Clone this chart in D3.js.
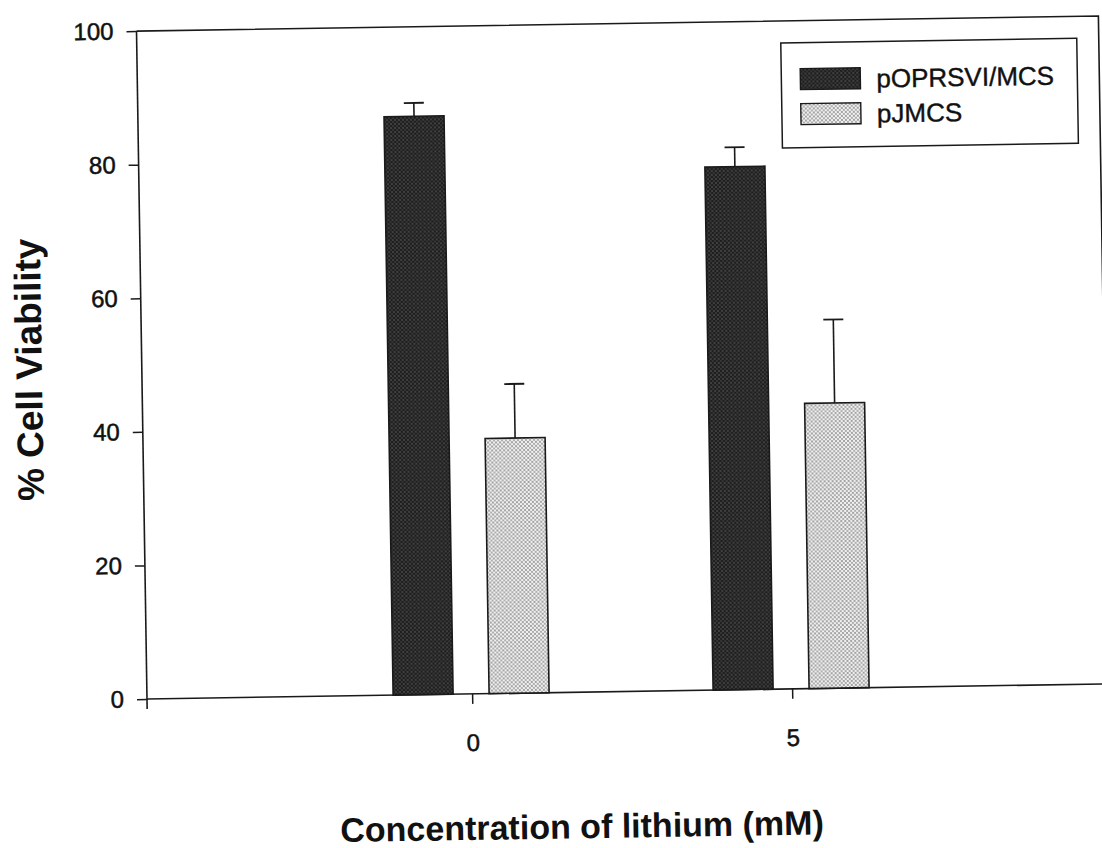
<!DOCTYPE html>
<html>
<head>
<meta charset="utf-8">
<script src="https://cdn.jsdelivr.net/npm/d3@7"></script>
<style>
  html, body { margin: 0; padding: 0; background: #fff; }
  svg { display: block; }
  text { font-family: "Liberation Sans", Arial, Helvetica, sans-serif; fill: #111; }
</style>
</head>
<body>
<svg id="chart" width="1102" height="848"></svg>
<script>
// Lithium concentration groups (mM) and the two constructs
const concentrations = [0, 5];
const seriesNames = ["pOPRSVI/MCS", "pJMCS"];
// Mean % cell viability per concentration
const viabilityPOPRSVI = [86.6, 78.3];
const viabilityPJMCS = [38.2, 42.7];
// Upper error (SD) per concentration
const errorPOPRSVI = [2.0, 2.9];
const errorPJMCS = [8.1, 12.5];
const yTickValues = [0, 20, 40, 60, 80, 100];
const xTickValues = [0, 5];

const seriesValues = [viabilityPOPRSVI, viabilityPJMCS];
const seriesErrors = [errorPOPRSVI, errorPJMCS];

const W = 962, H = 668;
const svg = d3.select("#chart");

// Stipple fills
const defs = svg.append("defs");
const darkPat = defs.append("pattern")
  .attr("id", "stippleDark").attr("patternUnits", "userSpaceOnUse")
  .attr("width", 4).attr("height", 4);
darkPat.append("rect").attr("width", 4).attr("height", 4).attr("fill", "#1e1e1e");
darkPat.append("circle").attr("cx", 1).attr("cy", 1).attr("r", 0.8).attr("fill", "#6a6a6a");
darkPat.append("circle").attr("cx", 3).attr("cy", 3).attr("r", 0.8).attr("fill", "#555");

const lightPat = defs.append("pattern")
  .attr("id", "stippleLight").attr("patternUnits", "userSpaceOnUse")
  .attr("width", 4).attr("height", 4);
lightPat.append("rect").attr("width", 4).attr("height", 4).attr("fill", "#f0f0f0");
lightPat.append("circle").attr("cx", 1).attr("cy", 1).attr("r", 0.9).attr("fill", "#808080");
lightPat.append("circle").attr("cx", 3).attr("cy", 3).attr("r", 0.9).attr("fill", "#909090");

const fills = ["url(#stippleDark)", "url(#stippleLight)"];

// Whole plot sits with a slight tilt
const g = svg.append("g")
  .attr("transform", "rotate(-0.9, 147, 699) translate(147, 31)");

const x = d3.scaleLinear().domain([-5.08, 9.95]).range([0, W]);
const y = d3.scaleLinear().domain([0, 100]).range([H, 0]);
const sub = d3.scaleBand().domain(seriesNames).range([-79, 77]).paddingInner(0.375);

const ink = "#1a1a1a";

// Frame (top and right borders)
g.append("path")
  .attr("d", `M0,0 H${W} V${H}`)
  .attr("fill", "none").attr("stroke", ink).attr("stroke-width", 1.6);
// left axis line extended slightly below the x axis
g.append("line")
  .attr("x1", 0).attr("x2", 0).attr("y1", 0).attr("y2", H + 10)
  .attr("stroke", ink).attr("stroke-width", 1.6);

// Y axis
const yAxis = g.append("g")
  .call(d3.axisLeft(y).tickValues(yTickValues).tickSize(10).tickPadding(13).tickFormat(d3.format("d")));
yAxis.select(".domain").remove();
yAxis.selectAll("line").attr("stroke", ink).attr("stroke-width", 1.5);
yAxis.selectAll("text").attr("font-size", 24).style("fill", "#111")
  .attr("stroke", "#111").attr("stroke-width", 0.5);

// X axis
const xAxis = g.append("g")
  .attr("transform", `translate(0,${H})`)
  .call(d3.axisBottom(x).tickValues(xTickValues).tickSize(10).tickPadding(30).tickFormat(d3.format("d")));
xAxis.select(".domain").attr("d", `M0,0 H${W}`).attr("stroke", ink).attr("stroke-width", 1.6);
xAxis.selectAll("line").attr("stroke", ink).attr("stroke-width", 1.5);
xAxis.selectAll("text").attr("font-size", 24).style("fill", "#111")
  .attr("stroke", "#111").attr("stroke-width", 0.5);

// Bars with upper error bars
seriesNames.forEach((name, si) => {
  const bx = d => x(d) + sub(name);
  const grp = g.append("g");
  concentrations.forEach((c, ci) => {
    const v = seriesValues[si][ci];
    const e = seriesErrors[si][ci];
    const left = bx(c);
    const cx = left + sub.bandwidth() / 2;
    grp.append("line")
      .attr("x1", cx).attr("x2", cx)
      .attr("y1", y(v)).attr("y2", y(v + e))
      .attr("stroke", ink).attr("stroke-width", 1.6);
    grp.append("line")
      .attr("x1", cx - 10).attr("x2", cx + 10)
      .attr("y1", y(v + e)).attr("y2", y(v + e))
      .attr("stroke", ink).attr("stroke-width", 1.8);
    grp.append("rect")
      .attr("x", left).attr("y", y(v))
      .attr("width", sub.bandwidth()).attr("height", y(0) - y(v))
      .attr("fill", fills[si]).attr("stroke", ink).attr("stroke-width", 1.6);
  });
});

// Legend
const legend = g.append("g").attr("transform", "translate(644,22)");
legend.append("rect")
  .attr("width", 296).attr("height", 105)
  .attr("fill", "#fff").attr("stroke", ink).attr("stroke-width", 1.5);
seriesNames.forEach((name, i) => {
  const row = legend.append("g").attr("transform", `translate(19,${26 + i * 35})`);
  row.append("rect")
    .attr("width", 60).attr("height", 21)
    .attr("fill", fills[i]).attr("stroke", ink).attr("stroke-width", 1.4);
  row.append("text")
    .attr("x", 76).attr("y", 20)
    .attr("font-size", 26)
    .attr("stroke", "#111").attr("stroke-width", 0.4)
    .text(name);
});

// Axis titles
g.append("text")
  .attr("transform", "translate(-100,337) rotate(-90)")
  .attr("text-anchor", "middle")
  .attr("font-size", 37).attr("font-weight", "bold")
  .text("% Cell Viability");

g.append("text")
  .attr("x", 433).attr("y", 814)
  .attr("text-anchor", "middle")
  .attr("font-size", 34).attr("font-weight", "bold")
  .text("Concentration of lithium (mM)");
</script>
</body>
</html>
